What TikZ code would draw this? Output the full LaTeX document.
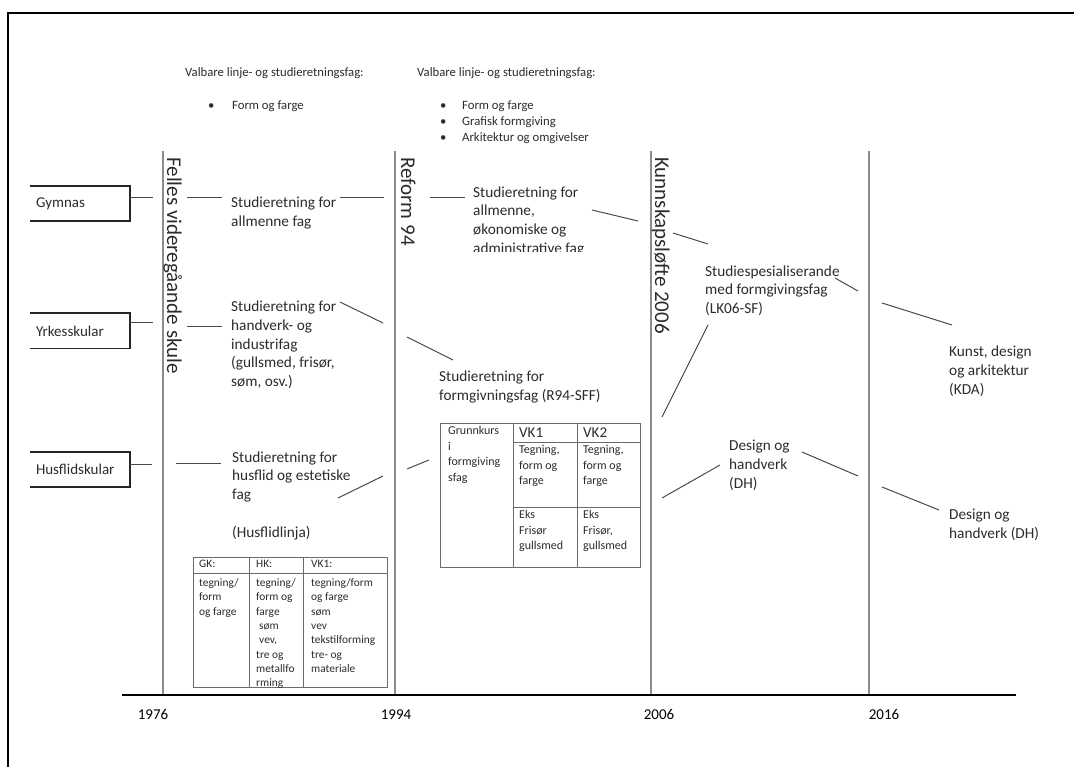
\documentclass[tikz,border=0pt]{standalone}
\usepackage{fontspec}
\setmainfont{Carlito}
\definecolor{txtc}{HTML}{2B2B2B}
\definecolor{linec}{HTML}{4A4A4A}
\definecolor{tlc}{HTML}{8C8C8C}
\definecolor{tabc}{HTML}{6A6A6A}
\begin{document}
\begin{tikzpicture}[x=1pt,y=-1pt,
  every node/.style={inner sep=0pt, text=txtc},
  lbltxt/.style={anchor=base west, align=left, font=\fontsize{15.3}{18.7}\selectfont},
  notetxt/.style={anchor=base west, align=left, font=\fontsize{12.7}{16}\selectfont},
  smalltxt/.style={anchor=base west, align=left, font=\fontsize{11.4}{14.3}\selectfont},
  celltxt/.style={anchor=base west, align=left, font=\fontsize{12}{15.5}\selectfont},
  headtxt/.style={anchor=base west, font=\fontsize{15}{18}\selectfont},
  eratxt/.style={rotate=-90, anchor=base west, font=\fontsize{21}{24}\selectfont},
  yeartxt/.style={anchor=base, text=black, font=\fontsize{15}{18}\selectfont},
  leftbox/.style={minimum height=35pt, text width=88pt, inner xsep=6pt, inner ysep=0pt, align=left, font=\fontsize{15}{18}\selectfont},
  framestyle/.style={line width=2.2pt, draw=black},
  tline/.style={line width=1.4pt, draw=tlc},
  conn/.style={line width=1pt, draw=linec},
  boxline/.style={line width=1.6pt, draw=black!85},
  tabline/.style={line width=0.9pt, draw=tabc},
]
\useasboundingbox (0,0) rectangle (1074,767);

% frame
\draw[framestyle] (1074,13) coordinate (fr1) -- (8,13) coordinate (fr2) -- (8,767) coordinate (fr3);

% timeline verticals and axis
\foreach \x/\n in {163/a,395/b,651/c,869/d}
  \draw[tline] (\x,151) coordinate (t\n top) -- (\x,695) coordinate (t\n bot);
\draw[line width=1.5pt] (122,695) coordinate (ax1) -- (1016,695) coordinate (ax2);

% years
\node[yeartxt] (y1976) at (153,719) {1976};
\node[yeartxt] (y1994) at (396,719) {1994};
\node[yeartxt] (y2006) at (659,719) {2006};
\node[yeartxt] (y2016) at (884,719) {2016};

% era labels
\node[eratxt] (felles) at (167,157) {Felles videregåande skule};
\node[eratxt] (reform) at (401,157) {Reform 94};
\node[eratxt] (kl06) at (655,157) {Kunnskapsløfte 2006};

% top notes
\node[notetxt] (v1) at (185,77) {Valbare linje- og studieretningsfag:};
\node[notetxt] (b1) at (208,110) {\makebox[24pt][l]{•}Form og farge};
\node[notetxt] (v2) at (417,77) {Valbare linje- og studieretningsfag:};
\node[notetxt] (b2) at (440,142) {\makebox[22pt][l]{•}Form og farge\\\makebox[22pt][l]{•}Grafisk formgiving\\\makebox[22pt][l]{•}Arkitektur og omgivelser};

% left boxes
\node[leftbox] (gym) at (80,203.5) {Gymnas};
\node[leftbox] (yrk) at (80,331) {Yrkesskular};
\node[leftbox] (hus) at (80,469.5) {Husflidskular};
\foreach \b in {gym,yrk,hus}
  \draw[boxline] (\b.north west) -- (\b.north east) -- (\b.south east) -- (\b.south west);

% main labels (anchor at baseline of last line)
\node[lbltxt] (saf) at (231,226.3) {Studieretning for\\allmenne fag};
\node[lbltxt] (shi) at (231,386.4) {Studieretning for\\handverk- og\\industrifag\\(gullsmed, frisør,\\søm, osv.)};
\node[lbltxt] (she) at (232,537) {Studieretning for\\husflid og estetiske\\fag\\\mbox{}\\(Husflidlinja)};
\begin{scope}
  \clip (460,150) rectangle (640,251.5);
  \node[lbltxt] (sao) at (473,253.2) {Studieretning for\\allmenne,\\økonomiske og\\administrative fag};
\end{scope}
\node[lbltxt] (sff) at (439,400.3) {Studieretning for\\formgivningsfag (R94-SFF)};
\node[lbltxt] (lk) at (705,313.5) {Studiespesialiserande\\med formgivingsfag\\(LK06-SF)};
\node[lbltxt] (kda) at (949,394) {Kunst, design\\og arkitektur\\(KDA)};
\node[lbltxt] (dh1) at (729,488) {Design og\\handverk\\(DH)};
\node[lbltxt] (dh2) at (949,538.3) {Design og\\handverk (DH)};

% connectors
\draw[conn] (gym.east |- 0,198) coordinate (c1a) -- (153,198) coordinate (c1b);
\draw[conn] (187,198) coordinate (c2a) -- (222,198) coordinate (c2b);
\draw[conn] (340,198) coordinate (c3a) -- (384,198) coordinate (c3b);
\draw[conn] (430,198) coordinate (c4a) -- (465,198) coordinate (c4b);
\draw[conn] (592,210) coordinate (c5a) -- (638,221) coordinate (c5b);
\draw[conn] (673,233) coordinate (c6a) -- (708,244) coordinate (c6b);
\draw[conn] (835,278) coordinate (c7a) -- (858,291) coordinate (c7b);
\draw[conn] (882,303) coordinate (c8a) -- (952,325) coordinate (c8b);
\draw[conn] (yrk.east |- 0,323) coordinate (c9a) -- (153,323) coordinate (c9b);
\draw[conn] (187,327) coordinate (c10a) -- (222,327) coordinate (c10b);
\draw[conn] (340,302) coordinate (c11a) -- (383,323) coordinate (c11b);
\draw[conn] (407,337) coordinate (c12a) -- (453,360) coordinate (c12b);
\draw[conn] (hus.east |- 0,464) coordinate (c13a) -- (152,464) coordinate (c13b);
\draw[conn] (176,463) coordinate (c14a) -- (221,463) coordinate (c14b);
\draw[conn] (338,498) coordinate (c15a) -- (383,476) coordinate (c15b);
\draw[conn] (407,469) coordinate (c16a) -- (429,460) coordinate (c16b);
\draw[conn] (662,417) coordinate (c17a) -- (708,325) coordinate (c17b);
\draw[conn] (662,498) coordinate (c18a) -- (720,465) coordinate (c18b);
\draw[conn] (802,452) coordinate (c19a) -- (858,476) coordinate (c19b);
\draw[conn] (882,487) coordinate (c20a) -- (939,510) coordinate (c20b);

% Husflid table
\draw[tabline] (193,557) coordinate (ht1) rectangle (387,687) coordinate (ht2);
\draw[tabline] (193,573) -- (387,573);
\draw[tabline] (249,557) -- (249,687);
\draw[tabline] (303,557) -- (303,687);
\node[smalltxt] (gk) at (199,567.5) {GK:};
\node[smalltxt] (hk) at (256,567.5) {HK:};
\node[smalltxt] (vkh) at (311,567.5) {VK1:};
\node[smalltxt] (gkb) at (199,615.1) {tegning/\\form\\og farge};
\node[smalltxt] (hkb) at (256,686.6) {tegning/\\form og\\farge\\\hspace*{3pt}søm\\\hspace*{3pt}vev,\\tre og\\metallfo\\rming};
\node[smalltxt] (vkb) at (311,672.3) {tegning/form\\og farge\\søm\\vev\\tekstilforming\\tre- og\\materiale};

% R94 table
\draw[tabline] (440,423) coordinate (rt1) rectangle (640,567) coordinate (rt2);
\draw[tabline] (513,423) -- (513,567);
\draw[tabline] (577,423) -- (577,567);
\draw[tabline] (513,442) -- (640,442);
\draw[tabline] (513,507) -- (640,507);
\node[celltxt] (gkf) at (448,481.1) {Grunnkurs\\i\\formgiving\\sfag};
\node[headtxt] (vk1) at (519,437) {VK1};
\node[headtxt] (vk2) at (583,437) {VK2};
\node[celltxt] (t1) at (519,484.6) {Tegning,\\form og\\farge};
\node[celltxt] (t2) at (583,484.6) {Tegning,\\form og\\farge};
\node[celltxt] (e1) at (519,549.6) {Eks\\Frisør\\gullsmed};
\node[celltxt] (e2) at (583,549.6) {Eks\\Frisør,\\gullsmed};
\end{tikzpicture}
\end{document}
